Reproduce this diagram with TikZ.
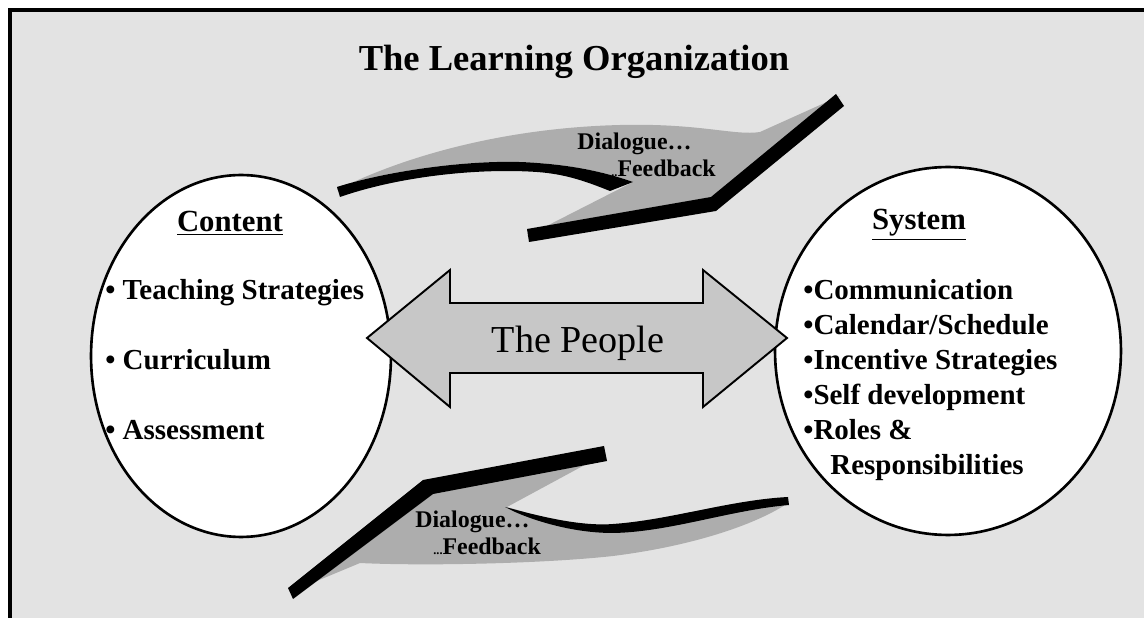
\documentclass[tikz,border=0pt]{standalone}
\usepackage{fontspec}
\setmainfont{Liberation Serif}
\usetikzlibrary{shapes.geometric}

\tikzset{
  bubble/.style={ellipse, draw, line width=1.5pt, fill=white, inner sep=0pt},
  ribbon/.style={fill=black!32},
  band/.style={fill=black},
  heading/.style={anchor=base, inner sep=0pt, font=\fontsize{17.5}{20}\selectfont\bfseries},
  item/.style={anchor=base west, inner sep=0pt, font=\fontsize{16.5}{19}\selectfont\bfseries},
  remark/.style={anchor=base west, inner sep=0pt, font=\fontsize{13.6}{15}\selectfont\bfseries},
}

\begin{document}
\begin{tikzpicture}[x=0.02cm, y=-0.02cm]
  \useasboundingbox (0,0) rectangle (1144,618);
  \fill[black!11] (10,10) rectangle (1144,618);
  \draw[line width=1.8pt] (10,618) -- (10,10) -- (1144,10);

  \node[anchor=base, inner sep=0pt, font=\fontsize{20.8}{24}\selectfont\bfseries] (title) at (574,71) {The Learning Organization};

  % upper feedback loop
  \fill[ribbon] (337,190) .. controls (400,158) and (500,128) .. (620,125)
    .. controls (700,123) and (735,136) .. (760,132) -- (840,96) -- (713,204) -- (527,236) -- (633,182)
    .. controls (610,174) and (580,166) .. (537,163) .. controls (480,158) and (390,170) .. (337,187) -- cycle;
  \fill[band] (337,187) .. controls (390,170) and (480,158) .. (537,163) .. controls (580,166) and (610,174) .. (633,182)
    -- (610,191) .. controls (585,181) and (565,174) .. (537,172) .. controls (480,168) and (400,176) .. (340,197) -- cycle;
  \fill[band] (527,229) -- (711,197) -- (836,94) -- (844,106) -- (716,211) -- (529,242) -- cycle;

  % lower feedback loop
  \fill[ribbon] (425,486) -- (605,454) -- (507,507) .. controls (530,513) and (570,530) .. (613,530)
    .. controls (680,528) and (740,506) .. (788,503) .. controls (760,522) and (700,545) .. (613,556)
    .. controls (540,564) and (420,566) .. (360,563) -- (300,588) -- cycle;
  \fill[band] (288,588) -- (423,480) -- (604,446) -- (607,461) -- (433,494) -- (293,599) -- cycle;
  \fill[band] (505,507) .. controls (525,512) and (575,527) .. (613,524) .. controls (670,520) and (730,500) .. (788,497)
    -- (789,505) .. controls (730,510) and (670,532) .. (613,533) .. controls (570,533) and (530,519) .. (513,511) -- cycle;

  \node[remark] (dialogueA) at (577,150) {Dialogue…};
  \node[remark] (feedbackA) at (611,177) {{\fontsize{7}{8}\selectfont..}Feedback};
  \node[remark] (dialogueB) at (415,528) {Dialogue…};
  \node[remark] (feedbackB) at (433,555) {{\fontsize{7}{8}\selectfont...}Feedback};

  % the two circles
  \node[bubble, minimum width=6cm, minimum height=7.24cm] (content) at (241,356) {};
  \node[bubble, minimum width=6.92cm, minimum height=7.36cm] (system) at (948,351) {};

  \node[heading] (contentHead) at (230,232) {\underline{Content}};
  \node[item] (teaching) at (105,300) {• Teaching Strategies};
  \node[item] (curriculum) at (105,370) {• Curriculum};
  \node[item] (assessment) at (105,439) {• Assessment};

  \node[heading] (systemHead) at (919,230) {\underline{System}};
  \node[item] (communication) at (803,300) {•Communication};
  \node[item] (calendar) at (803,335) {•Calendar/Schedule};
  \node[item] (incentive) at (803,370) {•Incentive Strategies};
  \node[item] (self) at (803,405) {•Self development};
  \node[item] (roles) at (803,440) {•Roles \&};
  \node[item] (responsibilities) at (830,475) {Responsibilities};

  % two-headed arrow between them
  \filldraw[fill=black!22, line width=1.1pt, line join=miter]
    (367,338) -- (450,270) -- (450,303) -- (703,303) -- (703,270) -- (787,338)
    -- (703,407) -- (703,373) -- (450,373) -- (450,407) -- cycle;
  \node[anchor=base, inner sep=0pt, font=\fontsize{21.7}{24}\selectfont] (people) at (578,353) {The People};
\end{tikzpicture}
\end{document}
